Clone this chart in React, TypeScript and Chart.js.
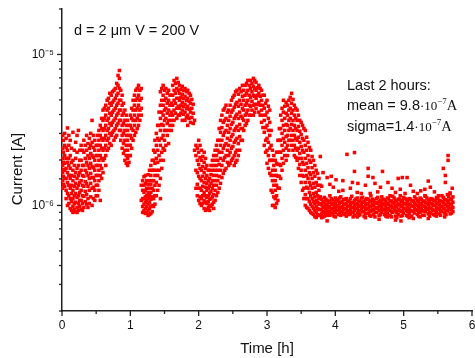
import React, { useEffect, useRef } from "react";
import { Chart, registerables } from "chart.js";

Chart.register(...registerables);

// ---- axes ----
const X_MIN = 0;
const X_MAX = 6;
const Y_MIN = 2e-7;
const Y_MAX = 2e-5;
const xTickValues = [0, 1, 2, 3, 4, 5, 6];
const xTickLabels = ["0", "1", "2", "3", "4", "5", "6"];
const yTickValues = [1e-6, 1e-5];
const yTickLabels = ["10⁻⁶", "10⁻⁵"];

// ---- texts ----
const xTitle = "Time [h]";
const yTitle = "Current [A]";
const conditionText = "d = 2 μm V = 200 V";
const statsTitle = "Last 2 hours:";
const meanRuns = ["mean = 9.8", "·10", "−7", "A"];
const sigmaRuns = ["sigma=1.4", "·10", "−7", "A"];

// ---- data (time in hours, current in units of 1e-7 A) ----
const CURRENT_UNIT = 1e-7;

// each row: [time, current, current, ...]
const driftColumnsA: number[][] = [
  [0.01, 29.1, 23.9, 20.5, 18.4, 16.6, 14.6, 13.0],
  [0.04, 30.0, 25.0, 21.4, 19.0, 17.1, 15.1, 13.4],
  [0.08, 32.6, 23.2, 19.3, 16.5, 14.2, 12.0, 10.0],
  [0.12, 27.0, 21.4, 17.6, 15.1, 13.0, 11.1, 9.55],
  [0.16, 30.5, 19.9, 17.1, 14.6, 12.6, 11.1, 9.85, 8.99],
  [0.2, 26.2, 20.5, 16.5, 14.0, 12.0, 10.5, 9.1],
  [0.24, 31.4, 18.4, 15.8, 13.6, 11.6, 10.3, 9.27],
  [0.28, 25.0, 19.9, 17.1, 14.6, 12.6, 10.8, 9.4],
  [0.32, 27.0, 22.5, 18.4, 15.6, 13.4, 11.5, 9.7],
  [0.36, 29.1, 23.2, 19.3, 16.5, 14.0, 11.8, 10.2],
  [0.4, 27.8, 23.9, 20.5, 17.6, 15.1, 12.6, 10.3],
  [0.44, 36.6, 26.2, 21.4, 18.1, 15.3, 13.0, 10.0],
  [0.48, 27.0, 23.2, 19.9, 17.1, 14.6, 12.6, 10.8],
  [0.52, 29.1, 25.0, 21.4, 18.4, 15.8, 13.6, 11.6],
  [0.56, 33.9, 29.1, 25.0, 21.4, 18.4, 15.8, 10.8],
  [0.6, 42.8, 36.6, 31.4, 27.0, 23.2, 19.9, 16.5],
  [0.64, 46.1, 39.6, 33.9, 29.1, 25.0, 21.4, 18.4],
  [0.68, 51.2, 44.0, 37.7, 32.3, 27.8, 23.9],
  [0.72, 53.7, 46.1, 39.6, 33.9, 29.1, 25.0],
  [0.76, 57.9, 49.7, 42.8, 36.6, 31.4, 27.0],
  [0.8, 64.3, 53.7, 46.1, 39.6, 33.9, 29.1],
  [0.84, 78.3, 69.4, 59.5, 49.7, 42.8, 36.6, 31.4],
  [0.88, 53.7, 46.1, 39.6, 33.9, 29.1, 23.9],
  [0.92, 42.8, 36.6, 31.4, 27.0, 23.2, 19.9],
  [0.96, 36.6, 31.4, 27.0, 23.2, 20.5, 18.4],
  [1.0, 39.6, 33.9, 29.1, 25.0, 21.4],
  [1.04, 49.7, 42.8, 36.6, 31.4, 27.0],
  [1.08, 57.9, 49.7, 42.8, 36.6, 30.5],
  [1.12, 62.4, 53.7, 46.1, 39.6, 33.9],
  [1.16, 59.5, 51.2, 44.0, 39.6, 13.6, 10.8],
  [1.2, 15.5, 13.6, 12.2, 11.1, 10.2, 9.27],
  [1.24, 14.6, 13.0, 11.6, 10.8, 9.85, 8.99],
  [1.28, 17.1, 14.6, 13.0, 11.6, 10.5, 9.55, 8.72],
  [1.32, 19.9, 17.1, 14.6, 13.0, 11.4, 10.0, 9.1],
  [1.36, 27.0, 22.5, 19.0, 15.8, 13.6, 11.6, 10.2],
  [1.4, 33.9, 27.8, 23.2, 19.3, 15.8, 12.6],
  [1.44, 56.6, 46.1, 37.7, 31.4, 25.0, 19.9, 15.1, 11.1],
  [1.48, 62.4, 53.7, 46.1, 39.6, 33.9, 29.1, 23.9, 19.9],
  [1.52, 59.5, 51.2, 44.0, 37.7, 31.4, 25.0],
  [1.56, 57.9, 49.7, 42.8, 36.6, 31.4, 25.7],
  [1.6, 53.7, 47.5, 41.5, 36.6, 31.4],
  [1.64, 67.3, 57.9, 49.7, 42.8, 36.6],
  [1.68, 69.4, 59.5, 51.2, 44.0, 37.7],
  [1.72, 62.4, 55.3, 49.7, 44.0, 39.6],
  [1.76, 61.5, 54.5, 48.2, 42.8, 36.6],
  [1.8, 59.5, 52.9, 46.8, 41.5, 36.6],
  [1.84, 57.9, 51.2, 45.4, 39.6, 33.9],
  [1.88, 53.7, 47.5, 41.5, 35.5],
  [1.92, 46.8, 40.8, 34.9],
  [1.96, 25.0, 21.4, 17.1, 13.0],
  [2.0, 27.0, 22.5, 18.7, 15.6, 13.0, 10.8],
  [2.04, 23.2, 19.9, 17.1, 14.6, 12.6, 11.1, 10.0],
  [2.08, 22.5, 19.3, 16.5, 14.2, 12.2, 10.8, 9.55],
  [2.12, 18.4, 15.8, 14.0, 12.6, 11.3, 10.3, 9.4],
  [2.16, 17.1, 15.1, 13.4, 12.0, 11.0, 10.0, 9.27],
  [2.2, 19.9, 17.1, 14.6, 13.0, 11.4, 10.2],
  [2.24, 23.2, 19.9, 17.1, 14.6, 12.6, 10.8],
  [2.28, 27.0, 23.2, 19.9, 17.1, 14.6, 12.2],
  [2.32, 36.6, 30.5, 25.0, 20.5, 17.1, 14.0],
  [2.36, 42.8, 35.5, 29.1, 23.9, 19.9, 16.3],
  [2.4, 46.1, 37.7, 31.4, 25.7, 21.4, 17.6],
  [2.44, 42.8, 36.6, 30.5, 25.0, 21.4, 18.4],
  [2.48, 49.7, 41.5, 34.4, 28.6, 23.9, 19.9],
  [2.52, 53.7, 44.7, 37.7, 31.4, 26.2, 21.4, 18.4],
  [2.56, 57.9, 48.2, 40.2, 33.4, 27.8, 23.2, 19.9],
  [2.6, 59.5, 49.7, 41.5, 34.4, 28.6, 23.2],
  [2.64, 62.4, 52.9, 44.0, 37.7, 32.3, 27.0],
  [2.68, 62.4, 53.7, 46.1, 39.6, 33.9],
  [2.72, 67.3, 57.9, 49.7, 42.8, 36.6],
  [2.76, 67.3, 59.5, 52.0, 45.4, 39.6],
  [2.8, 69.4, 61.5, 53.7, 46.1, 39.6],
  [2.84, 65.3, 57.9, 51.2, 44.0],
  [2.88, 62.4, 55.3, 48.2, 41.5],
  [2.92, 57.9, 49.7, 42.8, 35.5],
  [2.96, 53.7, 44.0, 36.6, 30.5, 25.0],
  [3.0, 49.7, 41.5, 33.9, 27.8, 23.2, 19.0],
  [3.04, 42.8, 35.5, 29.1, 23.9, 19.9, 16.3],
  [3.08, 23.2, 19.9, 17.1, 14.6, 12.2, 10.0],
  [3.12, 19.9, 17.1, 14.6, 12.6, 11.1, 9.7],
  [3.16, 27.0, 22.5, 18.7, 15.6, 13.0, 10.8],
  [3.2, 39.6, 32.3, 27.0, 22.5, 18.4, 15.1],
  [3.24, 49.7, 41.5, 33.9, 27.8, 23.2, 19.0],
  [3.28, 48.2, 40.8, 34.4, 28.6, 23.9, 19.9],
  [3.32, 49.7, 42.8, 36.6, 31.4, 27.0, 23.2],
  [3.36, 55.3, 47.5, 40.8, 34.4, 29.1, 25.0],
  [3.4, 46.1, 39.6, 33.9, 29.1, 25.0, 21.4],
  [3.44, 42.8, 36.6, 31.4, 27.0, 23.2, 19.9],
  [3.48, 36.6, 31.0, 26.2, 22.1, 18.7, 15.8],
  [3.52, 33.9, 27.8, 23.2, 19.3, 15.8, 12.6],
  [3.56, 31.4, 25.0, 20.5, 17.1, 14.2, 11.8, 10.0],
  [3.6, 26.2, 21.4, 17.8, 15.1, 13.0, 11.1, 9.55],
  [3.64, 23.2, 19.3, 16.0, 13.6, 11.6, 10.2, 8.99],
  [3.68, 19.9, 16.5, 14.0, 12.0, 10.6, 9.55, 8.72],
  [3.72, 17.1, 14.2, 12.2, 10.8, 9.85, 8.99, 8.33],
  [3.76, 15.1, 12.6, 11.1, 10.2, 9.4, 8.59],
];

const driftColumnsB: number[][] = [
  [0.02, 27.0, 22.5, 19.3, 17.3, 15.6, 13.8],
  [0.06, 27.8, 24.2, 20.5, 17.6, 15.1, 12.6, 11.1],
  [0.1, 29.1, 25.0, 20.5, 18.4, 15.8, 13.6, 11.6, 10.3],
  [0.14, 23.9, 19.3, 15.8, 13.6, 12.0, 10.6, 9.27],
  [0.18, 23.2, 18.4, 15.6, 13.4, 11.6, 10.3, 9.4],
  [0.22, 29.1, 22.5, 17.6, 15.1, 13.0, 11.3, 9.7, 8.99],
  [0.26, 23.2, 19.9, 16.5, 14.2, 12.2, 10.8, 9.85],
  [0.3, 23.2, 18.4, 15.8, 13.6, 11.6, 10.3, 9.27],
  [0.34, 25.0, 20.5, 17.1, 14.4, 12.4, 10.6],
  [0.38, 25.7, 21.4, 18.4, 15.8, 13.4, 11.1, 9.7],
  [0.42, 30.0, 25.0, 22.1, 19.0, 16.3, 14.0, 11.4],
  [0.46, 29.1, 24.2, 20.8, 17.8, 15.3, 13.2, 11.1],
  [0.5, 25.0, 21.4, 18.4, 15.8, 13.6, 11.6],
  [0.54, 31.4, 27.0, 23.2, 19.9, 17.1, 14.6, 12.6],
  [0.58, 37.7, 32.3, 27.8, 23.9, 20.5, 17.6, 15.1],
  [0.62, 44.0, 37.7, 32.3, 27.8, 23.9, 20.5],
  [0.66, 49.7, 42.8, 36.6, 31.4, 27.0, 23.2],
  [0.7, 55.3, 47.5, 40.8, 34.9, 30.0, 25.7],
  [0.74, 56.6, 48.2, 41.5, 35.5, 30.5],
  [0.78, 59.5, 51.2, 44.0, 37.7, 32.3, 28.3],
  [0.82, 72.6, 62.4, 55.3, 47.5, 40.8, 34.9],
  [0.86, 57.9, 49.7, 42.8, 36.6, 31.4, 27.0],
  [0.9, 47.5, 40.8, 34.9, 30.0, 25.7, 22.1],
  [0.94, 39.6, 33.9, 29.1, 25.0, 21.4, 19.0],
  [0.98, 33.9, 29.1, 25.0, 21.4, 19.3],
  [1.02, 44.0, 37.7, 32.3, 27.8, 23.9],
  [1.06, 53.7, 46.1, 39.6, 33.9, 29.1],
  [1.1, 59.5, 51.2, 44.0, 37.7, 32.3],
  [1.14, 57.9, 49.7, 42.8, 36.6],
  [1.18, 14.6, 12.6, 11.1, 9.85, 8.99],
  [1.22, 15.8, 14.0, 12.6, 11.4, 10.5, 9.55, 8.85],
  [1.26, 16.0, 13.8, 12.2, 11.1, 10.2, 9.27, 8.59],
  [1.3, 18.4, 15.8, 13.8, 12.2, 11.0, 9.85, 8.85],
  [1.34, 23.2, 19.9, 17.1, 14.6, 12.6, 11.1, 9.85],
  [1.38, 30.0, 25.0, 20.5, 17.1, 14.2, 11.6],
  [1.42, 41.5, 33.9, 27.0, 21.4, 17.1, 13.6],
  [1.46, 59.5, 49.7, 41.5, 34.4, 27.8, 22.5, 17.6],
  [1.5, 57.9, 49.7, 42.8, 36.6, 31.4, 27.0, 23.2],
  [1.54, 55.3, 47.5, 40.8, 34.9, 29.1],
  [1.58, 53.7, 46.1, 39.6, 33.9],
  [1.62, 62.4, 53.7, 46.1, 39.6, 33.9],
  [1.66, 64.3, 55.3, 47.5, 40.8],
  [1.7, 65.3, 57.9, 51.2, 45.4, 39.6],
  [1.74, 58.7, 52.0, 46.1, 40.8],
  [1.78, 57.9, 51.2, 45.4, 40.2],
  [1.82, 56.6, 49.7, 44.0, 38.3],
  [1.86, 55.3, 49.0, 43.4, 37.7],
  [1.9, 50.4, 44.0, 38.3],
  [1.94, 36.6, 23.2],
  [1.98, 23.9, 19.9, 16.5, 13.8, 11.6],
  [2.02, 25.0, 20.8, 17.6, 15.1, 13.0, 11.4, 10.3],
  [2.06, 21.1, 18.1, 15.6, 13.4, 11.6, 10.3],
  [2.1, 20.5, 17.6, 15.1, 13.2, 11.6, 10.5, 9.27],
  [2.14, 17.1, 14.6, 13.0, 11.6, 10.6, 9.7],
  [2.18, 18.4, 16.0, 14.0, 12.4, 11.1, 9.85],
  [2.22, 21.4, 18.4, 15.8, 13.6, 11.8, 10.5, 9.55],
  [2.26, 25.0, 21.4, 18.4, 15.8, 13.6, 11.6],
  [2.3, 32.3, 27.0, 22.5, 18.7, 15.6, 13.0],
  [2.34, 39.6, 32.8, 27.0, 22.5, 18.4, 15.3],
  [2.38, 44.0, 36.6, 30.5, 25.0, 20.8, 17.1],
  [2.42, 41.5, 33.9, 27.8, 23.2, 19.3],
  [2.46, 46.1, 39.0, 32.3, 27.0, 22.5, 19.0],
  [2.5, 52.0, 42.8, 35.5, 29.5, 24.6, 20.5],
  [2.54, 56.6, 46.8, 39.0, 32.3, 27.0, 22.5, 19.3],
  [2.58, 54.5, 45.4, 37.7, 31.4, 25.7, 21.4],
  [2.62, 56.6, 46.8, 39.0, 32.3, 27.0],
  [2.66, 57.9, 49.7, 42.8, 36.6, 31.4],
  [2.7, 64.3, 55.3, 47.5, 40.8, 34.9],
  [2.74, 62.4, 53.7, 46.1, 39.6],
  [2.78, 64.3, 56.6, 49.0, 42.8],
  [2.82, 67.3, 59.5, 52.9, 46.8, 41.5],
  [2.86, 60.3, 53.7, 46.8],
  [2.9, 59.5, 52.9, 46.1, 39.6],
  [2.94, 53.7, 46.1, 39.6, 32.8],
  [2.98, 47.5, 39.6, 32.8, 27.0, 22.5],
  [3.02, 45.4, 37.7, 31.4, 26.2, 21.4, 17.6],
  [3.06, 31.4, 25.0, 19.9, 15.8, 12.6],
  [3.1, 21.4, 18.4, 15.8, 13.6, 11.4, 10.0],
  [3.14, 22.5, 19.0, 15.8, 13.6, 11.6, 10.3],
  [3.18, 32.3, 27.0, 22.5, 18.7, 15.6, 13.0],
  [3.22, 44.0, 36.6, 30.0, 25.0, 20.5, 17.1],
  [3.26, 45.4, 37.7, 31.4, 26.2, 21.4],
  [3.3, 46.1, 39.6, 33.9, 29.1, 25.0, 21.4],
  [3.34, 52.0, 44.0, 37.7, 32.3, 27.0],
  [3.38, 50.4, 42.8, 36.6, 31.4, 27.0, 23.2],
  [3.42, 44.0, 37.7, 32.3, 27.8, 23.9, 20.8],
  [3.46, 39.6, 33.4, 28.3, 23.9, 20.5, 17.6],
  [3.5, 35.5, 29.5, 24.6, 20.5, 17.1, 14.2],
  [3.54, 32.3, 27.0, 22.5, 18.7, 15.6, 13.0, 11.1],
  [3.58, 28.3, 23.2, 19.0, 15.8, 13.2, 11.1, 9.7],
  [3.62, 24.2, 19.9, 16.5, 14.2, 12.2, 10.6, 9.27],
  [3.66, 21.1, 17.8, 15.1, 13.0, 11.1, 9.85, 8.85],
  [3.7, 18.4, 15.6, 13.2, 11.4, 10.3, 9.27, 8.45],
  [3.74, 16.3, 13.6, 11.6, 10.5, 9.55, 8.72],
  [3.78, 13.6, 11.4, 10.3, 9.4, 8.59],
];

// stable last ~2 hours
const plateauColumnsA: number[][] = [
  [3.8, 11.0, 10.1, 9.4, 8.8, 8.3, 13.4],
  [3.84, 11.3, 10.4, 9.7, 9.0, 8.5],
  [3.88, 10.8, 10.0, 9.3, 8.6, 7.9],
  [3.92, 11.6, 10.6, 9.8, 9.1, 8.6],
  [3.96, 10.9, 10.2, 9.5, 8.9],
  [4.0, 11.2, 10.3, 9.6, 9.0, 8.4],
  [4.04, 10.7, 9.9, 9.3, 8.7],
  [4.08, 11.4, 10.5, 9.7, 9.1, 8.6],
  [4.12, 10.9, 10.1, 9.4, 8.8],
  [4.16, 11.1, 10.3, 9.6, 9.0, 8.5],
  [4.2, 10.6, 9.9, 9.2, 8.7],
  [4.24, 11.5, 10.4, 9.7, 9.0],
  [4.28, 10.8, 10.0, 9.3, 8.6],
  [4.32, 11.2, 10.3, 9.6, 8.9, 8.4],
  [4.36, 10.7, 9.9, 9.2, 8.7],
  [4.4, 11.3, 10.5, 9.8, 9.1],
  [4.44, 10.9, 10.1, 9.4, 8.8, 8.3],
  [4.48, 11.0, 10.2, 9.5, 8.9],
  [4.52, 11.6, 10.6, 9.8, 9.1, 8.5],
  [4.56, 10.8, 10.0, 9.3, 8.7],
  [4.6, 11.1, 10.3, 9.6, 9.0],
  [4.64, 10.6, 9.9, 9.2, 8.6, 8.1],
  [4.68, 11.4, 10.4, 9.7, 9.0],
  [4.72, 10.9, 10.1, 9.4, 8.7],
  [4.76, 11.2, 10.3, 9.5, 8.9, 8.4],
  [4.8, 10.7, 10.0, 9.3, 8.6],
  [4.84, 11.5, 10.5, 9.7, 9.0],
  [4.88, 10.8, 10.0, 9.2, 8.5, 8.0],
  [4.92, 11.0, 10.2, 9.4, 8.7],
  [4.96, 10.6, 9.8, 9.1, 8.5, 7.9],
  [5.0, 11.3, 10.3, 9.6, 8.9],
  [5.04, 10.9, 10.1, 9.3, 8.6],
  [5.08, 11.1, 10.2, 9.5, 8.8, 8.3],
  [5.12, 10.7, 9.9, 9.2, 8.5],
  [5.16, 11.4, 10.4, 9.6, 8.9],
  [5.2, 10.8, 10.0, 9.3, 8.7],
  [5.24, 11.2, 10.3, 9.6, 9.0, 8.4],
  [5.28, 10.6, 9.9, 9.2, 8.6],
  [5.32, 11.5, 10.5, 9.7, 9.1],
  [5.36, 10.9, 10.1, 9.4, 8.8, 8.2],
  [5.4, 11.1, 10.3, 9.6, 8.9],
  [5.44, 10.7, 10.0, 9.3, 8.7],
  [5.48, 11.3, 10.4, 9.7, 9.0, 8.5],
  [5.52, 10.8, 10.1, 9.4, 8.8],
  [5.56, 11.6, 10.6, 9.8, 9.1],
  [5.6, 11.0, 10.2, 9.5, 8.9, 8.4],
  [5.64, 11.8, 10.7, 9.9, 9.2],
  [5.68, 12.1, 11.0, 10.1, 9.4, 8.8],
  [5.72, 11.4, 10.5, 9.7, 9.1],
];

const plateauColumnsB: number[][] = [
  [3.82, 10.6, 9.8, 9.1, 8.4],
  [3.86, 11.0, 10.2, 9.5, 8.8],
  [3.9, 10.5, 9.7, 9.0],
  [3.94, 11.1, 10.3, 9.5, 8.8],
  [3.98, 10.6, 9.8, 9.2, 8.5],
  [4.02, 10.9, 10.0, 9.3],
  [4.06, 11.2, 10.3, 9.5, 8.8],
  [4.1, 10.6, 9.8, 9.1],
  [4.14, 11.0, 10.2, 9.5, 8.7],
  [4.18, 10.7, 9.9, 9.2],
  [4.22, 11.1, 10.1, 9.4, 8.8],
  [4.26, 10.5, 9.7, 9.0, 8.4],
  [4.3, 11.0, 10.2, 9.5],
  [4.34, 10.6, 9.9, 9.2, 8.6],
  [4.38, 11.2, 10.2, 9.4],
  [4.42, 10.6, 9.8, 9.1, 8.5],
  [4.46, 11.1, 10.3, 9.6],
  [4.5, 10.7, 9.9, 9.2, 8.6],
  [4.54, 11.0, 10.2, 9.4],
  [4.58, 10.5, 9.7, 9.0, 8.4],
  [4.62, 11.3, 10.4, 9.6],
  [4.66, 10.8, 10.0, 9.3, 8.7],
  [4.7, 11.0, 10.2, 9.4],
  [4.74, 10.6, 9.8, 9.1, 8.5],
  [4.78, 11.1, 10.2, 9.5],
  [4.82, 10.7, 9.9, 9.1, 8.4],
  [4.86, 11.2, 10.3, 9.5],
  [4.9, 10.6, 9.8, 9.0, 8.3],
  [4.94, 11.0, 10.1, 9.3],
  [4.98, 10.8, 10.0, 9.2, 8.6],
  [5.02, 11.1, 10.3, 9.5],
  [5.06, 10.6, 9.8, 9.1, 8.5],
  [5.1, 11.0, 10.1, 9.3],
  [5.14, 10.7, 9.9, 9.1, 8.2],
  [5.18, 11.1, 10.2, 9.4],
  [5.22, 10.6, 9.8, 9.1, 8.5],
  [5.26, 11.0, 10.1, 9.4],
  [5.3, 10.7, 9.9, 9.2, 8.6],
  [5.34, 11.2, 10.3, 9.5],
  [5.38, 10.6, 9.7, 9.0, 8.5],
  [5.42, 11.0, 10.2, 9.4],
  [5.46, 10.8, 10.0, 9.2, 8.6],
  [5.5, 11.1, 10.3, 9.5],
  [5.54, 10.7, 9.9, 9.2, 8.6],
  [5.58, 11.3, 10.4, 9.6],
  [5.62, 10.9, 10.1, 9.3, 8.7],
  [5.66, 11.5, 10.5, 9.7],
  [5.7, 11.0, 10.2, 9.5, 8.9],
];

// scattered points above the plateau: [time, current]
const plateauOutliers: number[][] = [
  [4.17, 21.8], [4.28, 22.4], [4.28, 16.8], [4.48, 17.6], [4.48, 15.6],
  [4.55, 15.3], [4.69, 16.8], [4.77, 14.2], [4.92, 15.1], [4.98, 15.3],
  [5.05, 15.3], [5.1, 13.6], [3.94, 15.6], [4.01, 14.8], [4.11, 14.6],
  [4.25, 14.2], [4.33, 14.0], [4.44, 13.6], [4.58, 14.0], [4.66, 13.2],
  [4.83, 13.0], [4.95, 12.8], [5.14, 12.4], [5.31, 12.8], [5.39, 13.2],
  [5.51, 11.6], [5.58, 17.6], [5.61, 15.8], [5.65, 21.4], [5.65, 19.9],
  [5.61, 14.2], [5.71, 13.0], [5.68, 12.0], [5.31, 11.6], [5.2, 12.0],
  [4.95, 11.6], [4.8, 11.6], [4.51, 12.0], [4.32, 12.2], [4.11, 12.6],
  [3.97, 13.2], [3.88, 15.3], [3.82, 16.5], [3.78, 21.1], [4.05, 12.4],
  [4.38, 12.0], [4.62, 12.3], [4.88, 12.2], [5.02, 12.0], [5.25, 12.5],
  [5.45, 12.3], [5.36, 14.5], [4.22, 13.0], [3.92, 13.8],
];

const POINT_COLOR = "#ff0000";
const AXIS_COLOR = "#222222";
const TEXT_COLOR = "#111111";
const SANS = "'Liberation Sans', Arial, sans-serif";
const SERIF = "'Liberation Serif', 'Times New Roman', serif";

function columnsToPoints(cols: number[][]) {
  const pts: { x: number; y: number }[] = [];
  cols.forEach((c) => {
    for (let i = 1; i < c.length; i++) pts.push({ x: c[0], y: c[i] * CURRENT_UNIT });
  });
  return pts;
}

function drawRuns(ctx: CanvasRenderingContext2D, x: number, y: number, runs: string[], size: number) {
  ctx.font = `${size}px ${SANS}`;
  ctx.fillText(runs[0], x, y);
  x += ctx.measureText(runs[0]).width;
  ctx.font = `${size - 1.5}px ${SERIF}`;
  ctx.fillText(runs[1], x, y);
  x += ctx.measureText(runs[1]).width;
  ctx.font = `${size - 5.5}px ${SERIF}`;
  ctx.fillText(runs[2], x, y - 6);
  x += ctx.measureText(runs[2]).width;
  ctx.font = `${size}px ${SERIF}`;
  ctx.fillText(runs[3], x, y);
}

const decorPlugin = {
  id: "decor",
  afterDraw(chart: any) {
    const ctx: CanvasRenderingContext2D = chart.ctx;
    const xs = chart.scales.x;
    const ys = chart.scales.y;
    ctx.save();
    ctx.strokeStyle = AXIS_COLOR;
    ctx.lineWidth = 1.3;
    xs.ticks.forEach((t: any) => {
      const p = xs.getPixelForValue(t.value);
      const major = Math.abs(t.value - Math.round(t.value)) < 1e-9;
      ctx.beginPath();
      ctx.moveTo(p, xs.top);
      ctx.lineTo(p, xs.top + (major ? 5 : 3));
      ctx.stroke();
    });
    ys.ticks.forEach((t: any) => {
      const p = ys.getPixelForValue(t.value);
      const major = yTickValues.some((v) => Math.abs(t.value / v - 1) < 1e-6);
      ctx.beginPath();
      ctx.moveTo(ys.right, p);
      ctx.lineTo(ys.right - (major ? 5 : 3), p);
      ctx.stroke();
    });

    ctx.fillStyle = TEXT_COLOR;
    ctx.textBaseline = "alphabetic";
    ctx.textAlign = "left";
    ctx.font = `14.5px ${SANS}`;
    ctx.fillText(conditionText, 74, 35);
    ctx.fillText(statsTitle, 347, 90);
    drawRuns(ctx, 347, 110, meanRuns, 14.5);
    drawRuns(ctx, 347, 131, sigmaRuns, 14.5);

    ctx.save();
    ctx.translate(18, 169);
    ctx.rotate(-Math.PI / 2);
    ctx.textAlign = "center";
    ctx.textBaseline = "middle";
    ctx.font = `15px ${SANS}`;
    ctx.fillText(yTitle, 0, 0);
    ctx.restore();
    ctx.restore();
  },
};

export default function App() {
  const canvasRef = useRef<HTMLCanvasElement | null>(null);

  useEffect(() => {
    const canvas = canvasRef.current;
    if (!canvas) return;
    const data = [
      ...columnsToPoints(driftColumnsA),
      ...columnsToPoints(driftColumnsB),
      ...columnsToPoints(plateauColumnsA),
      ...columnsToPoints(plateauColumnsB),
      ...plateauOutliers.map((p) => ({ x: p[0], y: p[1] * CURRENT_UNIT })),
    ];
    const chart = new Chart(canvas, {
      type: "scatter",
      data: {
        datasets: [
          {
            data,
            pointStyle: "rect",
            pointRadius: 2.5,
            pointHoverRadius: 2.5,
            backgroundColor: POINT_COLOR,
            borderColor: POINT_COLOR,
            borderWidth: 0,
            showLine: false,
            clip: false as any,
          },
        ],
      },
      options: {
        animation: false,
        responsive: false,
        events: [],
        layout: { padding: { left: 0, right: 3, top: 9, bottom: 0 } },
        plugins: { legend: { display: false }, tooltip: { enabled: false } },
        scales: {
          x: {
            type: "linear",
            min: X_MIN,
            max: X_MAX,
            afterFit: (s: any) => {
              s.height = 47;
              s.paddingLeft = 0;
              s.paddingRight = 0;
            },
            grid: { display: false, drawTicks: false },
            border: { display: true, color: AXIS_COLOR, width: 1.5 },
            ticks: {
              stepSize: 0.5,
              autoSkip: false,
              maxRotation: 0,
              padding: 7,
              color: TEXT_COLOR,
              font: { family: SANS, size: 12 },
              callback: (v: any) => {
                const i = xTickValues.findIndex((t) => Math.abs(t - Number(v)) < 1e-9);
                return i >= 0 ? xTickLabels[i] : "";
              },
            },
            title: {
              display: true,
              text: xTitle,
              color: TEXT_COLOR,
              font: { family: SANS, size: 15 },
              padding: { top: 0, bottom: 0 },
            },
          },
          y: {
            type: "logarithmic",
            min: Y_MIN,
            max: Y_MAX,
            afterFit: (s: any) => {
              s.width = 62;
              s.paddingTop = 0;
              s.paddingBottom = 0;
            },
            grid: { display: false, drawTicks: false },
            border: { display: true, color: AXIS_COLOR, width: 1.5 },
            ticks: {
              autoSkip: false,
              padding: 8,
              color: TEXT_COLOR,
              font: { family: SANS, size: 12 },
              callback: (v: any) => {
                const i = yTickValues.findIndex((t) => Math.abs(Number(v) / t - 1) < 1e-6);
                return i >= 0 ? yTickLabels[i] : "";
              },
            },
          },
        },
      },
      plugins: [decorPlugin],
    });
    return () => chart.destroy();
  }, []);

  return (
    <div style={{ position: "fixed", left: 0, top: 0, width: 475, height: 358, background: "#fff" }}>
      <canvas ref={canvasRef} width={475} height={358} style={{ display: "block" }} />
    </div>
  );
}
